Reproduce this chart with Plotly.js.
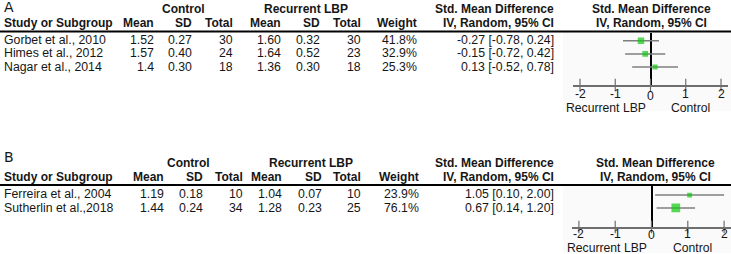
<!DOCTYPE html>
<html>
<head>
<meta charset="utf-8">
<script src="https://cdn.plot.ly/plotly-3.0.1.min.js"></script>
<style>html,body{margin:0;padding:0;background:#fff;}#chart{width:731px;height:254px;}</style>
</head>
<body>
<div id="chart"></div>
<script>
// ---------- DATA ----------
// Panel A
const studiesA   = ["Gorbet et al., 2010", "Himes et al., 2012", "Nagar et al., 2014"];
const ctrlMeanA  = ["1.52", "1.57", "1.4"];
const ctrlSdA    = ["0.27", "0.40", "0.30"];
const ctrlNA     = [30, 24, 18];
const recMeanA   = ["1.60", "1.64", "1.36"];
const recSdA     = ["0.32", "0.52", "0.30"];
const recNA      = [30, 23, 18];
const weightA    = [41.8, 32.9, 25.3];
const smdA       = [-0.27, -0.15, 0.13];
const loA        = [-0.78, -0.72, -0.52];
const hiA        = [0.24, 0.42, 0.78];
// Panel B
const studiesB   = ["Ferreira et al., 2004", "Sutherlin et al.,2018"];
const ctrlMeanB  = ["1.19", "1.44"];
const ctrlSdB    = ["0.18", "0.24"];
const ctrlNB     = [10, 34];
const recMeanB   = ["1.04", "1.28"];
const recSdB     = ["0.07", "0.23"];
const recNB      = [10, 25];
const weightB    = [23.9, 76.1];
const smdB       = [1.05, 0.67];
const loB        = [0.10, 0.14];
const hiB        = [2.00, 1.20];
// Axis ticks
const tickVals   = [-2, -1, 0, 1, 2];
const tickText   = ["-2", "-1", "0", "1", "2"];

// ---------- LAYOUT HELPERS ----------
const W = 731, H = 254;
const FONT = "Liberation Sans, Arial, sans-serif";
const TXT = "#161616";
const px = x => x / W;
const py = y => 1 - y / H;
const fmt = (v, d) => v.toFixed(d);

function t(x, y, text, anchor, size, family) {
  return {xref: "paper", yref: "paper", x: px(x), y: py(y), text: text,
    xanchor: anchor, yanchor: "middle", showarrow: false, borderpad: 0,
    font: {family: family || FONT, size: size || 12.3, color: TXT}};
}

// panel geometry (pixels)
const P = {
  A: {label: "A", labelY: 7, grpY: 9, hdrY: 23, rule: 31.5, row0: 40, rowStep: 13.35, axisY: 85, tickY: 94, zeroDrop: 1.5, footY: 107.5,
      cols: {mean: 155, sd: 193, n: 234, mean2: 282, sd2: 321, n2: 362, w: 418, smd: 555},
      ctrlC: 183, recC: 306, forestC: 651, x0: 650.5, unit: 35.25, footL: 606, footR: 690},
  B: {label: "B", labelY: 157, grpY: 163, hdrY: 177, rule: 185, row0: 194.3, rowStep: 13.2, axisY: 227, tickY: 234, zeroDrop: 0.5, footY: 248,
      cols: {mean: 165, sd: 204, n: 244, mean2: 283, sd2: 323, n2: 362, w: 420, smd: 555},
      ctrlC: 188, recC: 311, forestC: 655, x0: 651.5, unit: 36.3, footL: 607, footR: 692}
};

const ann = [];
const shapes = [];
const traces = [];
const layout = {
  width: W, height: H, margin: {l: 0, r: 0, t: 0, b: 0},
  paper_bgcolor: "#fff", plot_bgcolor: "rgba(0,0,0,0)",
  showlegend: false, font: {family: FONT, size: 12.3, color: TXT}
};

function panel(key, ax, studies, cm, cs, cn, rm, rs, rn, w, smd, lo, hi) {
  const g = P[key];
  const xa = ax === 1 ? "xaxis" : "xaxis" + ax;
  const ya = ax === 1 ? "yaxis" : "yaxis" + ax;
  const xr = ax === 1 ? "x" : "x" + ax;
  const yr = ax === 1 ? "y" : "y" + ax;
  const c = g.cols;
  const b = s => "<b>" + s + "</b>";

  // headings
  ann.push(t(3, g.labelY, g.label, "left", 14, "DejaVu Sans"));
  ann.push(t(g.ctrlC, g.grpY, b("Control"), "center", 12));
  ann.push(t(g.recC, g.grpY, b("Recurrent LBP"), "center", 12));
  ann.push(t(c.smd, g.grpY, b("Std. Mean Difference"), "right", 12));
  ann.push(t(g.forestC, g.grpY, b("Std. Mean Difference"), "center", 12));
  ann.push(t(3, g.hdrY, b("Study or Subgroup"), "left", 12));
  ann.push(t(c.mean, g.hdrY, b("Mean"), "right", 12));
  ann.push(t(c.sd, g.hdrY, b("SD"), "right", 12));
  ann.push(t(c.n, g.hdrY, b("Total"), "right", 12));
  ann.push(t(c.mean2, g.hdrY, b("Mean"), "right", 12));
  ann.push(t(c.sd2, g.hdrY, b("SD"), "right", 12));
  ann.push(t(c.n2, g.hdrY, b("Total"), "right", 12));
  ann.push(t(c.w, g.hdrY, b("Weight"), "right", 12));
  ann.push(t(c.smd, g.hdrY, b("IV, Random, 95% CI"), "right", 12));
  ann.push(t(g.forestC, g.hdrY, b("IV, Random, 95% CI"), "center", 12));

  shapes.push({type: "line", xref: "paper", yref: "paper", x0: 0, x1: 1, y0: py(g.rule), y1: py(g.rule),
               line: {color: "#000", width: 2}});
  // faint plot background
  shapes.push({type: "rect", xref: "paper", yref: "paper", layer: "below", x0: px(563), x1: 1,
               y0: py(g.axisY + 26), y1: py(g.rule + 1), fillcolor: "#fafafa", line: {width: 0}});

  // rows
  studies.forEach((s, i) => {
    const y = g.row0 + i * g.rowStep;
    ann.push(t(3, y, s, "left"));
    ann.push(t(c.mean, y, cm[i], "right"));
    ann.push(t(c.sd, y, cs[i], "right"));
    ann.push(t(c.n, y, String(cn[i]), "right"));
    ann.push(t(c.mean2, y, rm[i], "right"));
    ann.push(t(c.sd2, y, rs[i], "right"));
    ann.push(t(c.n2, y, String(rn[i]), "right"));
    ann.push(t(c.w, y, fmt(w[i], 1) + "%", "right"));
    ann.push(t(c.smd, y, fmt(smd[i], 2) + " [" + fmt(lo[i], 2) + ", " + fmt(hi[i], 2) + "]", "right"));
  });

  // foot labels
  ann.push(t(g.footL, g.footY, "Recurrent LBP", "center", 12.2));
  ann.push(t(g.footR, g.footY, "Control", "center", 12.2));

  // axes: x domain spans [-2.2, 2.2]
  const left = g.x0 - 2.2 * g.unit, right = Math.min(W, g.x0 + 2.2 * g.unit);
  const rng = [-2.2, (right - g.x0) / g.unit];
  const yTop = 1 - (g.row0 - g.rule) / g.rowStep;          // row value at top rule
  const yBot = 1 + (g.axisY - g.row0) / g.rowStep;         // row value at axis line
  layout[xa] = {domain: [px(left), px(right)], range: rng, anchor: yr,
    showgrid: false, zeroline: true, zerolinecolor: "#000", zerolinewidth: 2,
    showline: true, linecolor: "#6e6e6e", linewidth: 1.5,
    ticks: "", showticklabels: false, tickvals: tickVals, fixedrange: true};
  layout[ya] = {domain: [py(g.axisY), py(g.rule + 1)], range: [yBot, yTop], anchor: xr,
    showgrid: false, zeroline: false, showline: false, showticklabels: false, ticks: "", fixedrange: true};

  // tick labels placed on the axis scale
  tickVals.forEach((v, i) => {
    ann.push({xref: xr, yref: "paper", x: v, y: py(g.tickY + (v === 0 ? g.zeroDrop : 0)), text: tickText[i],
      xanchor: "center", yanchor: "middle", showarrow: false, borderpad: 0,
      font: {family: FONT, size: 12.2, color: TXT}});
  });

  const rows = studies.map((_, i) => i + 1);
  // confidence intervals
  const cx = [], cy = [];
  rows.forEach((r, i) => { cx.push(lo[i], hi[i], null); cy.push(r, r, null); });
  traces.push({type: "scatter", mode: "lines", x: cx, y: cy, xaxis: xr, yaxis: yr,
               line: {color: "#7f7f7f", width: 1.5}, hoverinfo: "skip"});
  // point estimates
  traces.push({type: "scatter", mode: "markers", x: smd, y: rows, xaxis: xr, yaxis: yr,
               marker: {symbol: "square", color: "#10c810", size: w.map(v => Math.sqrt(v)),
                        line: {width: 0}}, hoverinfo: "skip"});
  // tick marks crossing the axis line
  traces.push({type: "scatter", mode: "markers", x: tickVals, y: tickVals.map(() => yBot),
               xaxis: xr, yaxis: yr, cliponaxis: false,
               marker: {symbol: "line-ns", size: 9, line: {color: "#6e6e6e", width: 1.2}}, hoverinfo: "skip"});
}

panel("A", 1, studiesA, ctrlMeanA, ctrlSdA, ctrlNA, recMeanA, recSdA, recNA, weightA, smdA, loA, hiA);
panel("B", 2, studiesB, ctrlMeanB, ctrlSdB, ctrlNB, recMeanB, recSdB, recNB, weightB, smdB, loB, hiB);

layout.annotations = ann;
layout.shapes = shapes;
Plotly.newPlot("chart", traces, layout, {staticPlot: true, displayModeBar: false});
</script>
</body>
</html>
